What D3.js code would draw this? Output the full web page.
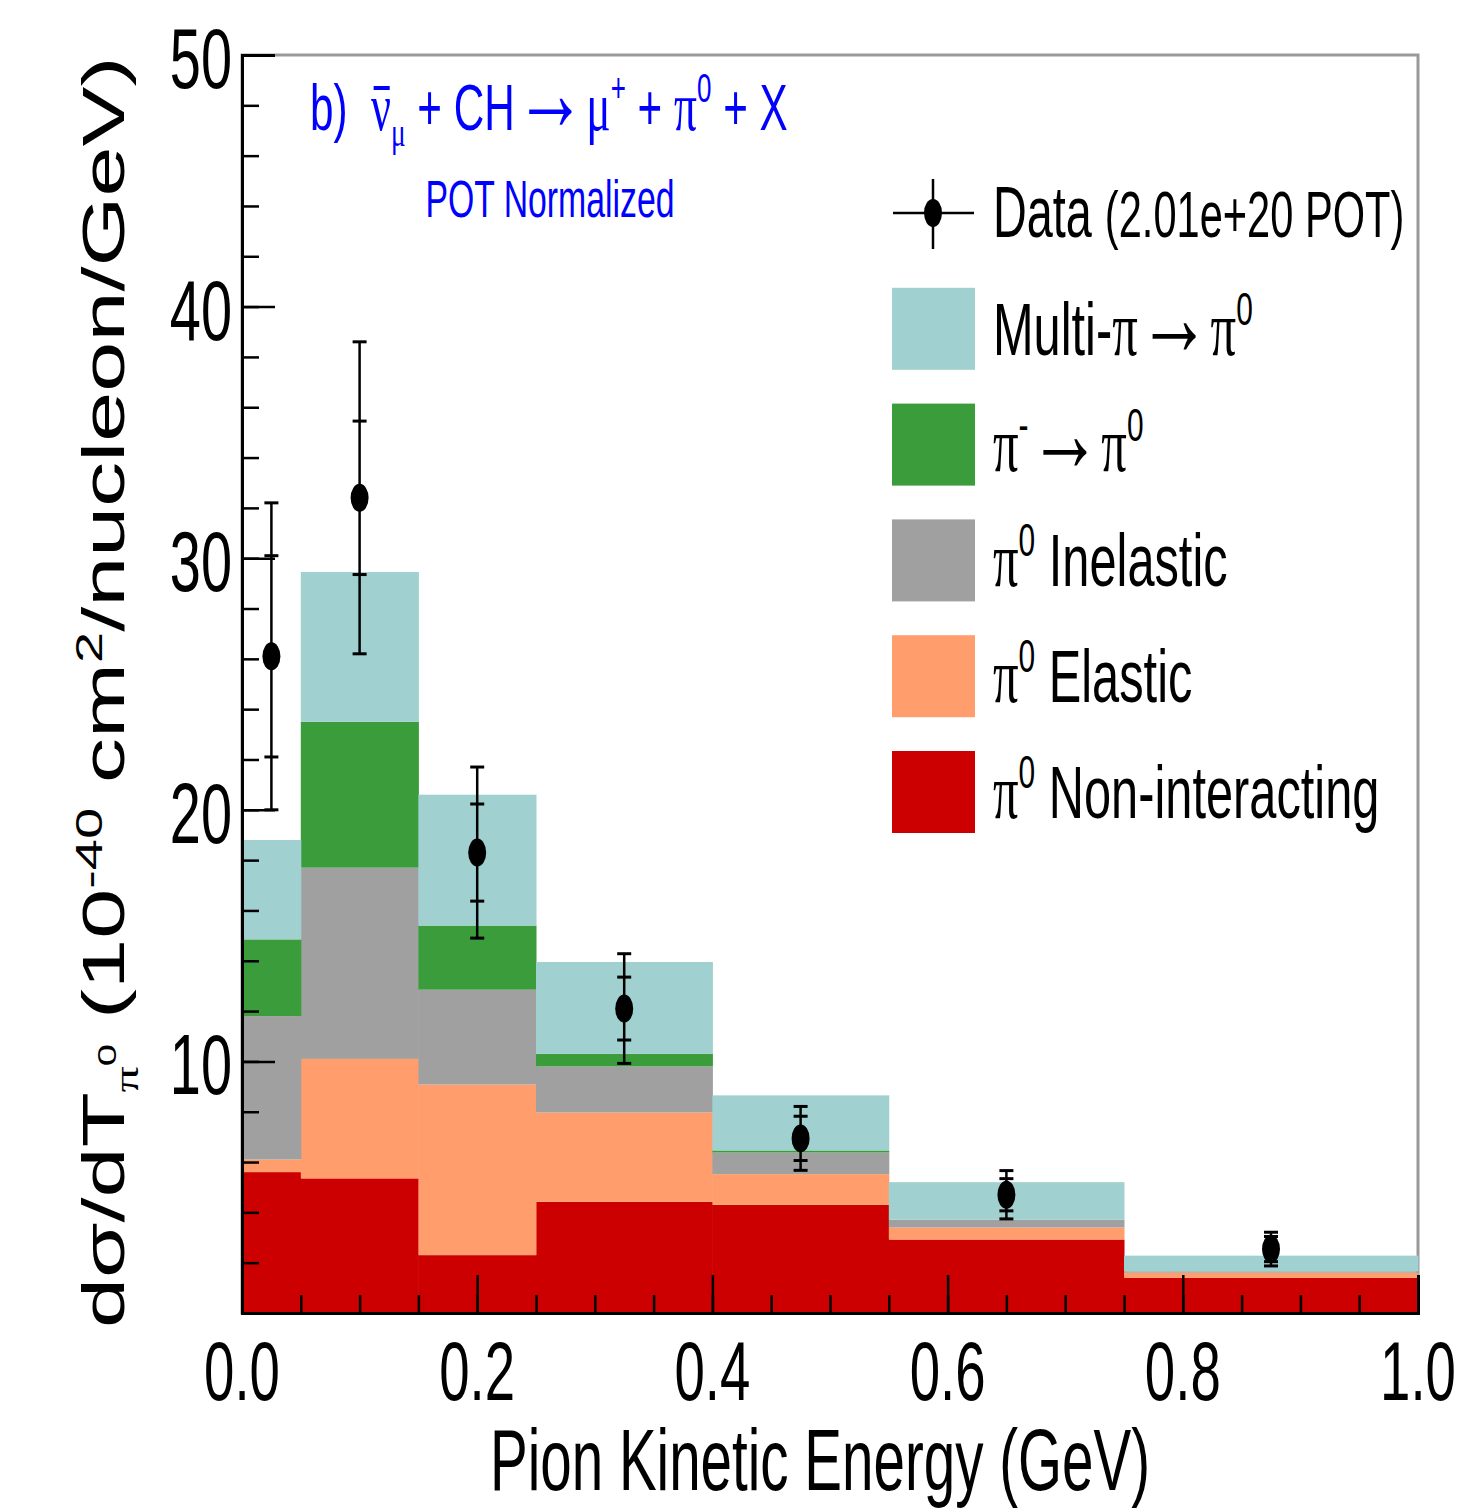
<!DOCTYPE html>
<html>
<head>
<meta charset="utf-8">
<script src="https://cdn.jsdelivr.net/npm/d3@7.9.0/dist/d3.min.js"></script>
<style>
  body { margin: 0; background: #fff; }
  text { font-family: "Liberation Sans", Arial, sans-serif; }
  .gr { font-family: "Liberation Serif", "DejaVu Serif", serif; }
  .ar { font-family: "Liberation Serif", "DejaVu Serif", serif; }
</style>
</head>
<body>
<svg id="chart" width="1461" height="1512"></svg>
<script>
// bin edges in GeV
const binEdges = [0, 0.05, 0.15, 0.25, 0.4, 0.55, 0.75, 1.0];

// stacked MC components, per bin (bottom to top)
const nonInteracting = [5.6, 5.35, 2.3, 4.42, 4.3, 2.92, 1.4];
const elastic        = [0.5, 4.75, 6.78, 3.55, 1.22, 0.48, 0.2];
const inelastic      = [5.7, 7.6, 3.77, 1.83, 0.86, 0.31, 0.06];
const piMinus        = [3.05, 5.8, 2.55, 0.5, 0.08, 0.0, 0.0];
const multiPi        = [3.95, 5.95, 5.2, 3.65, 2.19, 1.49, 0.62];

// data points
const dataVal  = [26.1, 32.4, 18.3, 12.1, 6.94, 4.7, 2.54];
const statErr  = [4.0, 3.05, 1.93, 1.25, 0.88, 0.64, 0.5];
const totalErr = [6.1, 6.2, 3.4, 2.18, 1.27, 0.96, 0.67];

const yTickLabels = ["10", "20", "30", "40", "50"];
const xTickLabels = ["0.0", "0.2", "0.4", "0.6", "0.8", "1.0"];

const S = 0.65; // horizontal squeeze of the text, like the original picture

const svg = d3.select("#chart");
const x = d3.scaleLinear().domain([0, 1]).range([242, 1418]);
const y = d3.scaleLinear().domain([0, 50]).range([1313, 55]);

const keys = ["nonint", "elastic", "inel", "pim", "multi"];
const colors = {
  nonint: "#cc0000",
  elastic: "#ff9e6c",
  inel: "#a0a0a0",
  pim: "#3a9c3a",
  multi: "#a0d0d0"
};

const rows = binEdges.slice(0, -1).map((lo, i) => ({
  lo: lo, hi: binEdges[i + 1],
  nonint: nonInteracting[i], elastic: elastic[i], inel: inelastic[i],
  pim: piMinus[i], multi: multiPi[i]
}));

const series = d3.stack().keys(keys)(rows);

// frame (grey, ROOT style)
svg.append("rect")
  .attr("x", x(0)).attr("y", y(50))
  .attr("width", x(1) - x(0)).attr("height", y(0) - y(50))
  .attr("fill", "none").attr("stroke", "#999").attr("stroke-width", 3);

// stacked histogram
svg.append("g").selectAll("g")
  .data(series)
  .join("g")
  .attr("fill", d => colors[d.key])
  .selectAll("rect")
  .data(d => d)
  .join("rect")
  .attr("x", d => x(d.data.lo))
  .attr("width", d => x(d.data.hi) - x(d.data.lo) + 0.5)
  .attr("y", d => y(d[1]))
  .attr("height", d => Math.max(0, y(d[0]) - y(d[1])));

// axes, ticks pointing inside
const yMajor = d3.axisLeft(y).tickValues([0, 10, 20, 30, 40, 50]).tickSize(-33).tickFormat("");
const yMinor = d3.axisLeft(y).tickValues(d3.range(0, 51, 2)).tickSize(-17).tickFormat("");
const xMajor = d3.axisBottom(x).tickValues([0, 0.2, 0.4, 0.6, 0.8, 1.0]).tickSize(-38).tickFormat("");
const xMinor = d3.axisBottom(x).tickValues(d3.range(0, 1.0001, 0.05)).tickSize(-18).tickFormat("");

function styleAxis(g) {
  g.selectAll("line").attr("stroke", "#000").attr("stroke-width", 2.5);
  g.select(".domain").attr("stroke", "#000").attr("stroke-width", 3);
}
svg.append("g").attr("transform", `translate(${x(0)},0)`).call(yMinor).call(styleAxis);
svg.append("g").attr("transform", `translate(${x(0)},0)`).call(yMajor).call(styleAxis);
svg.append("g").attr("transform", `translate(0,${y(0)})`).call(xMinor).call(styleAxis);
svg.append("g").attr("transform", `translate(0,${y(0)})`).call(xMajor).call(styleAxis);

// narrow text helper
function ntext(px, py, size, anchor, color) {
  return svg.append("text")
    .attr("transform", `translate(${px},${py}) scale(${S},1)`)
    .attr("font-size", size)
    .attr("text-anchor", anchor || "start")
    .attr("fill", color || "#000");
}

// tick labels
yTickLabels.forEach(t => {
  ntext(x(0) - 10, y(+t) + 33, 86, "end").text(t);
});
xTickLabels.forEach(t => {
  ntext(x(+t), 1400, 84, "middle").text(t);
});

// axis titles
ntext(820, 1490, 87, "middle").text("Pion Kinetic Energy (GeV)");

const yt = svg.append("text")
  .attr("transform", `translate(124,1328) scale(${S},1) rotate(-90)`)
  .attr("font-size", 90)
  .attr("text-anchor", "start");
yt.append("tspan").text("dσ/dT");
yt.append("tspan").attr("class", "gr").attr("font-size", 52).attr("dy", 22).text("π");
yt.append("tspan").attr("font-size", 40).attr("dy", -34).text("0");
yt.append("tspan").attr("dy", 12).text("\u00a0(10");
yt.append("tspan").attr("font-size", 56).attr("dy", -34).text("-40");
yt.append("tspan").attr("dy", 34).text("\u00a0cm");
yt.append("tspan").attr("font-size", 56).attr("dy", -34).text("2");
yt.append("tspan").attr("dy", 34).text("/nucleon/GeV)");

// in-plot titles
const t1 = ntext(310, 130, 65, "start", "#0000ff");
t1.append("tspan").text("b)\u00a0\u00a0");
t1.append("tspan").attr("class", "gr").attr("font-size", 68).text("ν");
t1.append("tspan").attr("class", "gr").attr("font-size", 42).attr("dy", 16).text("μ");
t1.append("tspan").attr("dy", -16).text("\u00a0+ CH");
t1.append("tspan").attr("class", "ar").attr("font-size", 110).text("→");
t1.append("tspan").attr("class", "gr").attr("font-size", 70).text("μ");
t1.append("tspan").attr("font-size", 40).attr("dy", -28).text("+");
t1.append("tspan").attr("dy", 28).text("\u00a0+\u00a0");
t1.append("tspan").attr("class", "gr").attr("font-size", 70).text("π");
t1.append("tspan").attr("font-size", 40).attr("dy", -28).text("0");
t1.append("tspan").attr("dy", 28).text("\u00a0+ X");

// bar over the nu (anti-neutrino)
const nuBox = t1.node().getExtentOfChar(4);
svg.append("line")
  .attr("transform", `translate(310,130) scale(${S},1)`)
  .attr("x1", nuBox.x + 4).attr("x2", nuBox.x + nuBox.width - 2)
  .attr("y1", -42).attr("y2", -42)
  .attr("stroke", "#0000ff").attr("stroke-width", 4);

ntext(550, 217, 52, "middle", "#0000ff").text("POT Normalized");

// data points with two-level error bars
const centers = rows.map(r => (r.lo + r.hi) / 2);
const pts = svg.append("g");
dataVal.forEach((v, i) => {
  const cx = x(centers[i]);
  pts.append("line")
    .attr("x1", cx).attr("x2", cx)
    .attr("y1", y(v + totalErr[i])).attr("y2", y(v - totalErr[i]))
    .attr("stroke", "#000").attr("stroke-width", 2.5);
  [v + totalErr[i], v - totalErr[i], v + statErr[i], v - statErr[i]].forEach(e => {
    pts.append("line")
      .attr("x1", cx - 7).attr("x2", cx + 7)
      .attr("y1", y(e)).attr("y2", y(e))
      .attr("stroke", "#000").attr("stroke-width", 3);
  });
  pts.append("ellipse")
    .attr("cx", cx).attr("cy", y(v))
    .attr("rx", 9).attr("ry", 14).attr("fill", "#000");
});

// legend
const legItems = [
  { key: "multi", label: [["Multi-", ""], ["π", "gr"], ["→", "ar"], ["π", "gr"], ["0", "sup"]] },
  { key: "pim", label: [["π", "gr"], ["-", "sup"], ["→", "ar"], ["π", "gr"], ["0", "sup"]] },
  { key: "inel", label: [["π", "gr"], ["0", "sup"], [" Inelastic", ""]] },
  { key: "elastic", label: [["π", "gr"], ["0", "sup"], [" Elastic", ""]] },
  { key: "nonint", label: [["π", "gr"], ["0", "sup"], [" Non-interacting", ""]] }
];
const legY0 = 213, legStep = 115.8;

// data entry
pts.append("line").attr("x1", 893).attr("x2", 974).attr("y1", legY0).attr("y2", legY0)
  .attr("stroke", "#000").attr("stroke-width", 2.5);
pts.append("line").attr("x1", 933).attr("x2", 933).attr("y1", legY0 - 34).attr("y2", legY0 + 36)
  .attr("stroke", "#000").attr("stroke-width", 2.5);
pts.append("ellipse").attr("cx", 933).attr("cy", legY0).attr("rx", 9).attr("ry", 14).attr("fill", "#000");
const dt = ntext(993, legY0 + 24, 72, "start");
dt.append("tspan").text("Data ");
dt.append("tspan").attr("font-size", 64).text("(2.01e+20 POT)");

legItems.forEach((it, i) => {
  const cy = legY0 + legStep * (i + 1);
  svg.append("rect")
    .attr("x", 892).attr("y", cy - 41).attr("width", 83).attr("height", 82)
    .attr("fill", colors[it.key]);
  const t = ntext(993, cy + 26, 75, "start");
  let up = false;
  it.label.forEach(([s, cls]) => {
    const sp = t.append("tspan").text(s);
    if (cls === "gr") sp.attr("class", "gr").attr("font-size", 78);
    if (cls === "ar") sp.attr("class", "ar").attr("font-size", 112);
    if (cls === "sup") {
      sp.attr("font-size", 46).attr("dy", -30);
      up = true;
    } else if (up) {
      sp.attr("dy", 30);
      up = false;
    }
  });
});
</script>
</body>
</html>
